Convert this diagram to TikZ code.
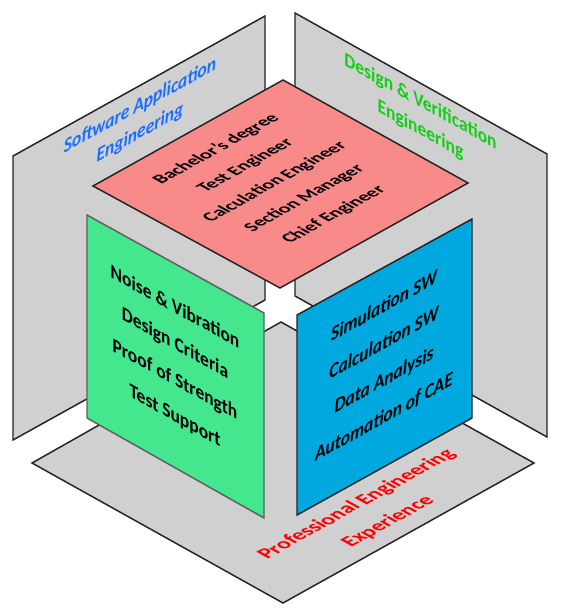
\documentclass[tikz,border=0pt]{standalone}
\usepackage{fontspec}
\setmainfont{Carlito}
\definecolor{wallgray}{RGB}{208,208,208}
\definecolor{edgecol}{RGB}{35,35,35}
\definecolor{greenedge}{RGB}{95,95,95}
\definecolor{pinkfill}{RGB}{248,138,138}
\definecolor{greenfill}{RGB}{68,230,142}
\definecolor{bluefill}{RGB}{0,168,224}
\definecolor{saeblue}{RGB}{25,110,255}
\definecolor{dvegreen}{RGB}{20,205,20}
\definecolor{peored}{RGB}{255,0,0}
\begin{document}
\begin{tikzpicture}[x=0.75pt,y=-0.75pt,
  wall/.style={fill=wallgray,draw=edgecol,line width=1.1pt,line join=miter},
  panel/.style={draw=edgecol,line width=1.1pt,line join=miter},
  lbl/.style={inner sep=0pt,align=center},
  upright/.style={cm={0.8746,0.4848,0,1,(0,0)},transform shape},
  downright/.style={cm={0.8746,-0.4848,0,1,(0,0)},transform shape},
  topface/.style={cm={0.8746,0.4848,-0.8746,0.4848,(0,0)},transform shape}]
\useasboundingbox (0,0) rectangle (564,613);
% walls
\draw[wall] (13,156) -- (265,16) -- (265,300) -- (13,440) -- cycle;
\draw[wall] (295,13) -- (547,154) -- (547,437) -- (295,296) -- cycle;
\draw[wall] (281,322) -- (534,463) -- (283,603) -- (32,463) -- cycle;
% panels
\draw[panel,fill=pinkfill] (93,186) -- (283,80) -- (468,183) -- (280,288) -- cycle;
\draw[panel,fill=greenfill,draw=greenedge] (87,215) -- (264,313) -- (264,518) -- (87,418) -- cycle;
\draw[panel,fill=bluefill] (297,315) -- (472,219) -- (472,418) -- (297,515) -- cycle;
% texts
\begin{scope}[shift={(140,119.5)},upright]
\node[lbl,text=saeblue,font=\fontsize{15}{20.3}\selectfont\bfseries\itshape] (sae) {Software Application\\Engineering};
\end{scope}
\begin{scope}[shift={(420.5,116)},downright]
\node[lbl,text=dvegreen,font=\fontsize{15}{21}\selectfont\bfseries] (dve) {Design \& Verification\\Engineering};
\end{scope}
\begin{scope}[shift={(275,182)},topface]
\node[lbl,font=\fontsize{13.8}{25.2}\selectfont\bfseries] (career) {Bachelor's degree\\Test Engineer\\Calculation Engineer\\Section Manager\\Chief Engineer};
\end{scope}
\begin{scope}[shift={(175,362)},downright]
\node[lbl,font=\fontsize{15}{27.2}\selectfont\bfseries] (skills) {Noise \& Vibration\\Design Criteria\\Proof of Strength\\Test Support};
\end{scope}
\begin{scope}[shift={(384,362)},upright]
\node[lbl,font=\fontsize{15}{27.7}\selectfont\bfseries\itshape] (sw) {Simulation SW\\Calculation SW\\Data Analysis\\Automation of CAE};
\end{scope}
\begin{scope}[shift={(372.5,513)},topface]
\node[lbl,text=peored,font=\fontsize{15.9}{26.9}\selectfont\bfseries] (pee) {Professional Engineering\\Experience};
\end{scope}
\end{tikzpicture}
\end{document}
